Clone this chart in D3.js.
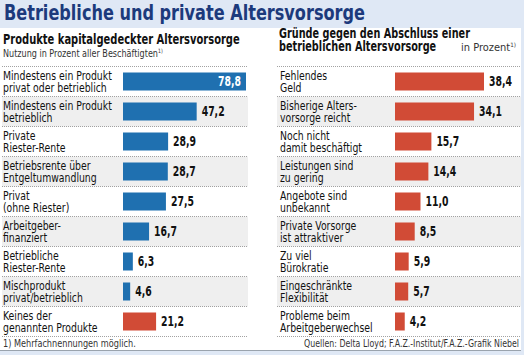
<!DOCTYPE html>
<html><head><meta charset="utf-8">
<script src="https://cdn.jsdelivr.net/npm/d3@7"></script>
<style>
html,body{margin:0;padding:0;background:#fff;}
svg{display:block;font-family:"DejaVu Sans Condensed","Liberation Sans Narrow",sans-serif;}
</style></head>
<body>
<svg id="c" width="524" height="355"></svg>
<script>
const title = "Betriebliche und private Altersvorsorge";
const leftHeader = ["Produkte kapitalgedeckter Altersvorsorge"];
const leftSub = "Nutzung in Prozent aller Beschäftigten";
const rightHeader = ["Gründe gegen den Abschluss einer", "betrieblichen Altersvorsorge"];
const rightSub = "in Prozent";
const leftCategories = [
  ["Mindestens ein Produkt","privat oder betrieblich"],
  ["Mindestens ein Produkt","betrieblich"],
  ["Private","Riester-Rente"],
  ["Betriebsrente  über","Entgeltumwandlung"],
  ["Privat","(ohne Riester)"],
  ["Arbeitgeber-","finanziert"],
  ["Betriebliche","Riester-Rente"],
  ["Mischprodukt","privat/betrieblich"],
  ["Keines der","genannten Produkte"]
];
const leftValues = [78.8, 47.2, 28.9, 28.7, 27.5, 16.7, 6.3, 4.6, 21.2];
const leftColorKeys = ["b","b","b","b","b","b","b","b","r"];
const rightCategories = [
  ["Fehlendes","Geld"],
  ["Bisherige Alters-","vorsorge reicht"],
  ["Noch nicht","damit beschäftigt"],
  ["Leistungen sind","zu gering"],
  ["Angebote sind","unbekannt"],
  ["Private Vorsorge","ist attraktiver"],
  ["Zu viel","Bürokratie"],
  ["Eingeschränkte","Flexibilität"],
  ["Probleme beim","Arbeitgeberwechsel"]
];
const rightValues = [38.4, 34.1, 15.7, 14.4, 11.0, 8.5, 5.9, 5.7, 4.2];
const footnote = "1) Mehrfachnennungen möglich.";
const source = "Quellen: Delta Lloyd; F.A.Z.-Institut/F.A.Z.-Grafik Niebel";

const BLUE = "#1f70b0", RED = "#d14b36";
const fmt = v => v.toFixed(1).replace(".", ",");
const svg = d3.select("#c");

function squeeze(sel, x0, k){
  sel.attr("transform", `translate(${x0},0) scale(${k},1) translate(${-x0},0)`);
}
function fitTo(sel, x0, target){
  const w = sel.node().getComputedTextLength();
  const k = target / w;
  squeeze(sel, x0, k);
  return k;
}

// title bar
svg.append("rect").attr("x",0).attr("y",0).attr("width",524).attr("height",28).attr("fill","#dfe8f5");
const tt = svg.append("text").attr("x",4).attr("y",20).attr("font-size",20.5).attr("font-weight","bold")
  .attr("fill","#1c3a7c").text(title);
fitTo(tt, 4, 361);
// borders
svg.append("rect").attr("x",0).attr("y",351).attr("width",524).attr("height",4).attr("fill","#dfe8f5");
svg.append("line").attr("x1",0).attr("x2",524).attr("y1",350.5).attr("y2",350.5).attr("stroke","#9aa3ad").attr("stroke-width",1);
svg.append("rect").attr("x",521).attr("y",0).attr("width",3).attr("height",355).attr("fill","#dfe8f5");

const rowY = d3.scaleBand().domain(d3.range(9)).range([66.5, 336.5]).paddingInner(0).paddingOuter(0);

const probe = svg.append("text").attr("font-size",12.8).text("Mindestens ein Produkt");
const kLabel = 109 / probe.node().getComputedTextLength();
probe.remove();
const probe2 = svg.append("text").attr("font-size",14).attr("font-weight","bold").text("47,2");
const kVal = 23 / probe2.node().getComputedTextLength();
probe2.remove();

function panel(opts){
  const g = svg.append("g");
  g.selectAll("rect.shade").data(d3.range(9).filter(i=>i%2===1)).join("rect")
    .attr("x",opts.x0).attr("width",opts.x1-opts.x0)
    .attr("y",i=>rowY(i)).attr("height",rowY.bandwidth()).attr("fill","#efefef");
  g.selectAll("line.sep").data(d3.range(10)).join("line")
    .attr("x1",opts.x0).attr("x2",opts.x1)
    .attr("y1",i=>rowY.range()[0]+i*rowY.bandwidth()).attr("y2",i=>rowY.range()[0]+i*rowY.bandwidth())
    .attr("stroke","#8a8a8a").attr("stroke-width",0.8).attr("stroke-dasharray","1,1");
  const x = d3.scaleLinear().domain([0, opts.maxV]).range([opts.bx, opts.bx + opts.maxW]);
  opts.cats.forEach((c,i)=>{
    c.forEach((line,j)=>{
      const t = g.append("text").attr("x",opts.lx).attr("y",rowY(i)+13.2+j*12)
        .attr("font-size",12.8).attr("fill","#111").text(line);
      squeeze(t, opts.lx, kLabel);
    });
  });
  const bh = 18;
  g.selectAll("rect.bar").data(opts.vals).join("rect")
    .attr("x",x(0)).attr("width",d=>x(d)-x(0))
    .attr("y",(d,i)=>rowY(i)+(rowY.bandwidth()-bh)/2).attr("height",bh)
    .attr("fill",(d,i)=>opts.colors[i]);
  g.selectAll("text.val").data(opts.vals).join("text")
    .attr("font-size",14).attr("font-weight","bold")
    .attr("x",(d,i)=> (opts.inside && i===0) ? x(d)-5 : x(d)+5)
    .attr("text-anchor",(d,i)=> (opts.inside && i===0) ? "end" : "start")
    .attr("fill",(d,i)=> (opts.inside && i===0) ? "#fff" : "#111")
    .attr("y",(d,i)=>rowY(i)+rowY.bandwidth()/2+5)
    .text(fmt)
    .each(function(d,i){
      const xx = (opts.inside && i===0) ? x(d)-5 : x(d)+5;
      squeeze(d3.select(this), xx, kVal);
    });
}

// left panel
const lh = svg.append("text").attr("x",3).attr("y",44).attr("font-size",13.5).attr("font-weight","bold").attr("fill","#111").text(leftHeader[0]);
fitTo(lh, 3, 237);
const ls = svg.append("text").attr("x",3).attr("y",57).attr("font-size",10.5).attr("fill","#333").text(leftSub);
ls.append("tspan").attr("font-size",6).attr("dy",-4).text("1)");
fitTo(ls, 3, 160);
panel({x0:2,x1:248,lx:3,bx:123,maxV:78.8,maxW:123,cats:leftCategories,vals:leftValues,
  colors:leftColorKeys.map(k=>k==="b"?BLUE:RED),inside:true});

// right panel
const hk = [];
rightHeader.forEach((h,j)=>{
  const t = svg.append("text").attr("x",279).attr("y",38+j*13).attr("font-size",13.5).attr("font-weight","bold").attr("fill","#111").text(h);
  hk.push(t);
});
const kh = fitTo(hk[0], 279, 191);
squeeze(hk[1], 279, kh);
const rs = svg.append("text").attr("x",516).attr("y",51).attr("text-anchor","end").attr("font-size",10.5).attr("fill","#333");
rs.append("tspan").text(rightSub);
rs.append("tspan").attr("font-size",6).attr("dy",-4).text("1)");
fitTo(rs, 516, 55);
panel({x0:277,x1:521,lx:280,bx:395,maxV:38.4,maxW:89,cats:rightCategories,vals:rightValues,
  colors:rightValues.map(()=>RED),inside:false});

const fn = svg.append("text").attr("x",3).attr("y",347).attr("font-size",10.5).attr("fill","#333").text(footnote);
fitTo(fn, 3, 133);
const src = svg.append("text").attr("x",519).attr("y",347).attr("text-anchor","end").attr("font-size",10.5).attr("fill","#333").text(source);
fitTo(src, 519, 215);
</script>
</body></html>
